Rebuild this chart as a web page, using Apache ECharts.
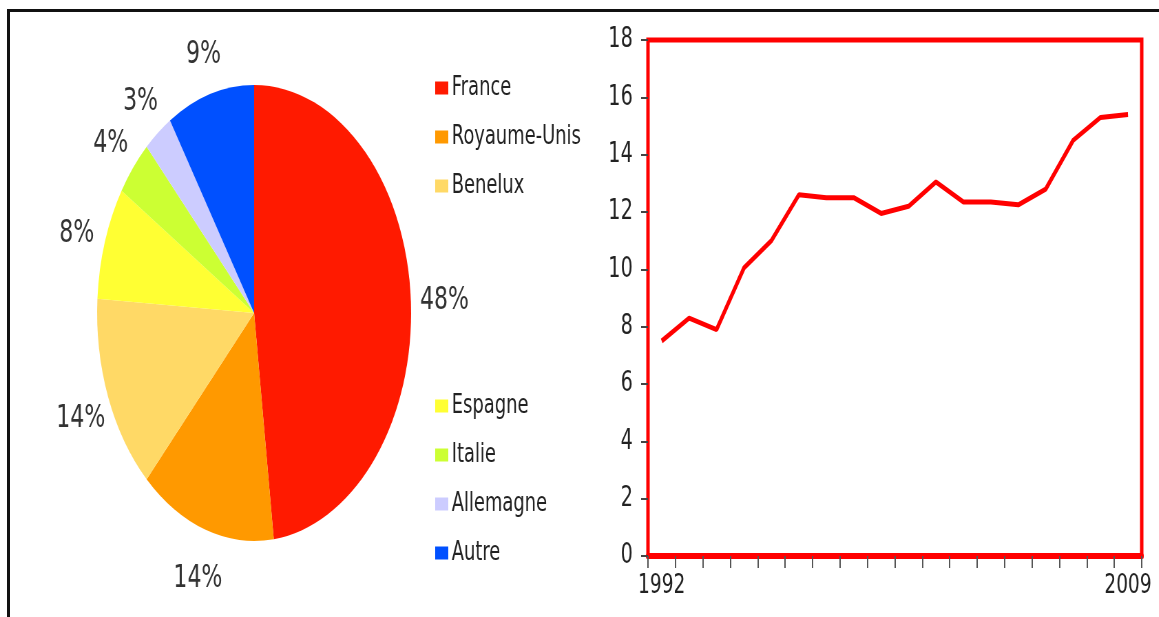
<!DOCTYPE html>
<html>
<head>
<meta charset="utf-8">
<script src="https://cdn.jsdelivr.net/npm/echarts@6/dist/echarts.min.js"></script>
<style>
html, body { margin: 0; padding: 0; background: #fff; }
#wrap { position: relative; width: 1159px; height: 617px; overflow: hidden; background: #fff; }
#frame { position: absolute; left: 7px; top: 9px; width: 1200px; height: 700px;
  border-left: 3px solid #111; border-top: 3px solid #111; }
/* the source picture is squeezed sideways, so the chart is drawn wide and squeezed too */
#chart { position: absolute; left: 0; top: 0; width: 1683px; height: 617px;
  transform: scaleX(0.6886); transform-origin: 0 0; }
</style>
</head>
<body>
<div id="wrap">
  <div id="frame"></div>
  <div id="chart"></div>
</div>
<script>
// pie data (shares in %)
const pays = ['France', 'Royaume-Unis', 'Benelux', 'Espagne', 'Italie', 'Allemagne', 'Autre']
const parts = [48, 14, 14, 8, 4, 3, 9]
const couleurs = ['#ff1a00', '#ff9900', '#ffd966', '#ffff33', '#ccff33', '#ccccff', '#0050ff']

// line data
const annees = ['1992', '1993', '1994', '1995', '1996', '1997', '1998', '1999', '2000',
  '2001', '2002', '2003', '2004', '2005', '2006', '2007', '2008', '2009']
const valeurs = [7.5, 8.3, 7.9, 10.05, 11.0, 12.6, 12.5, 12.5, 11.95,
  12.2, 13.05, 12.35, 12.35, 12.25, 12.8, 14.5, 15.3, 15.4]

const police = 'DejaVu Sans'

let pieData = []
for (let i = 0; i < pays.length; i++) {
    pieData.push({ name: pays[i], value: parts[i], itemStyle: { color: couleurs[i] } })
}

let dom = document.getElementById('chart')
let chart = echarts.init(dom, null, { renderer: 'canvas' })

let option = {
    animation: false,
    legend: [
        {
            data: pays.slice(0, 3),
            orient: 'vertical',
            left: 627,
            top: 70,
            icon: 'rect',
            itemWidth: 19,
            itemHeight: 13,
            itemGap: 23,
            selectedMode: false,
            textStyle: { fontFamily: police, fontSize: 26, color: '#222' }
        },
        {
            data: pays.slice(3),
            orient: 'vertical',
            left: 627,
            top: 388,
            icon: 'rect',
            itemWidth: 19,
            itemHeight: 13,
            itemGap: 23,
            selectedMode: false,
            textStyle: { fontFamily: police, fontSize: 26, color: '#222' }
        }
    ],
    grid: {
        left: 941,
        right: 25,
        top: 40,
        bottom: 61,
        show: true,
        borderColor: '#ff0000',
        borderWidth: 5
    },
    xAxis: {
        type: 'category',
        data: annees,
        boundaryGap: true,
        axisLine: { lineStyle: { color: '#ff0000', width: 6 } },
        axisTick: { show: true, interval: 0, length: 12, lineStyle: { color: '#555', width: 2 } },
        axisLabel: {
            interval: (i) => i === 0 || i === annees.length - 1,
            margin: 16,
            fontFamily: police,
            fontSize: 27,
            color: '#222'
        }
    },
    yAxis: {
        type: 'value',
        min: 0,
        max: 18,
        interval: 2,
        splitLine: { show: false },
        axisLine: { show: false },
        axisTick: { show: true, length: 10, lineStyle: { color: '#444', width: 2 } },
        axisLabel: { margin: 22, fontFamily: police, fontSize: 28, color: '#222' }
    },
    series: [
        {
            type: 'pie',
            center: [369, 313],
            radius: 228,
            startAngle: 90,
            clockwise: true,
            silent: true,
            data: pieData,
            label: { show: false },
            labelLine: { show: false }
        },
        {
            // transparent ring carrying the percent labels around the pie
            type: 'pie',
            center: [372, 318],
            radius: [228, 314],
            startAngle: 90,
            clockwise: true,
            silent: true,
            data: pieData.map(d => ({ name: d.name, value: d.value, itemStyle: { color: 'rgba(0,0,0,0)' } })),
            label: {
                show: true,
                position: 'inside',
                formatter: p => p.value + '%',
                fontFamily: police,
                fontSize: 32,
                color: '#333'
            },
            labelLine: { show: false }
        },
        {
            type: 'line',
            data: valeurs,
            symbol: 'none',
            lineStyle: { color: '#ff0000', width: 5 }
        }
    ]
}

chart.setOption(option)
</script>
</body>
</html>
